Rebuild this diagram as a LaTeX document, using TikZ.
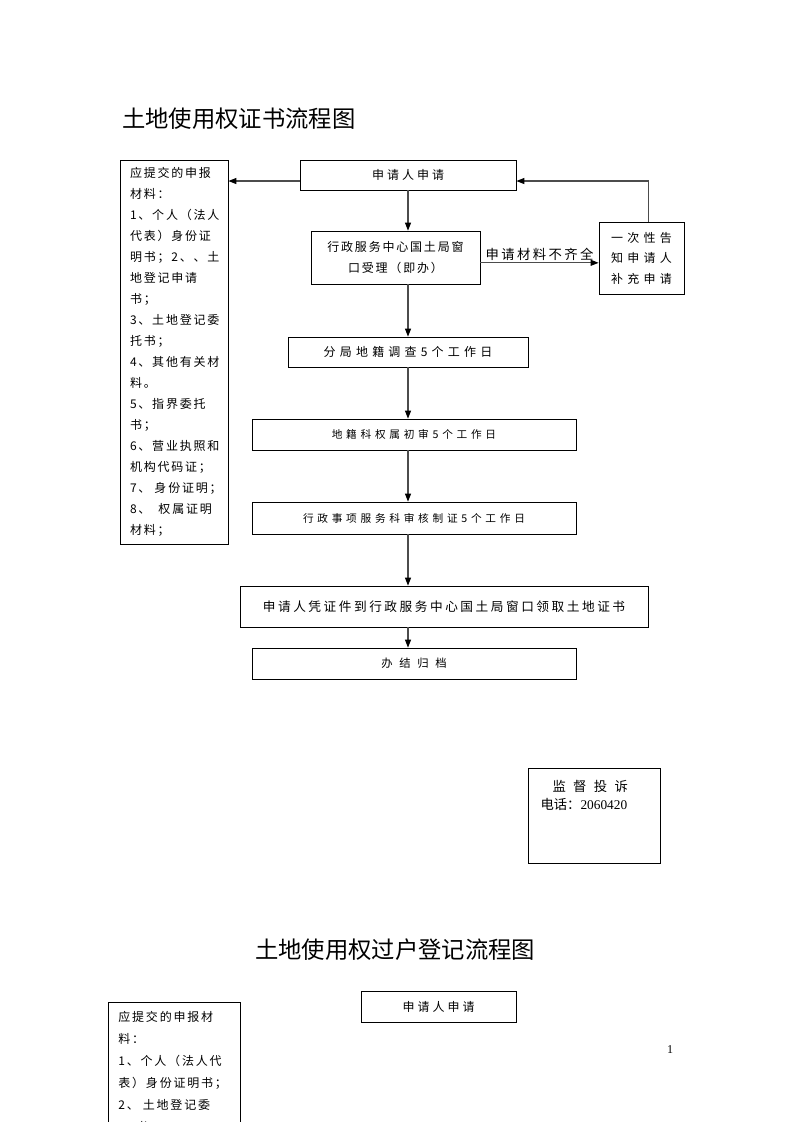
\documentclass[tikz,border=0pt]{standalone}
\usepackage{fontspec}
\setmainfont{Liberation Serif}
\newfontfamily\cjk{Noto Sans CJK SC}
\newfontfamily\cjkS[LetterSpace=15]{Noto Sans CJK SC}
\newfontfamily\cjkL[LetterSpace=18]{Noto Sans CJK SC}
\newfontfamily\cjkT[LetterSpace=20]{Noto Sans CJK SC}
\newfontfamily\cjkM[LetterSpace=25]{Noto Sans CJK SC}
\newfontfamily\cjkW[LetterSpace=35]{Noto Sans CJK SC}
\usetikzlibrary{arrows.meta}
\usetikzlibrary{positioning}

\begin{document}
\begin{tikzpicture}[x=0.75pt,y=-0.75pt,
  box/.style={draw,line width=0.6pt,inner sep=0pt,align=center},
  arr/.style={draw=black!70,line width=0.8pt,-{Triangle[length=6pt,width=4.5pt,color=black]}},
  title/.style={font=\cjk\fontsize{17.5}{20}\selectfont,anchor=west,inner sep=0pt}]
\useasboundingbox (0,0) rectangle (793,1122);

\node[title] (title1) at (122,119) {土地使用权证书流程图};

\node[box,minimum width=81pt,minimum height=288pt,text width=66pt,align=left,
  font=\cjkS\fontsize{9}{15.75}\selectfont] (docs) at (174,352)
  {应提交的申报\\材料：\\1、个人（法人\\代表）身份证\\明书；2、、土\\地登记申请\\书；\\3、土地登记委\\托书；\\4、其他有关材\\料。\\5、指界委托\\书；\\6、营业执照和\\机构代码证；\\7、~身份证明；\\8、~~权属证明\\材料；};

\node[box,minimum width=162pt,minimum height=22.5pt,font=\cjkM\fontsize{9}{11}\selectfont] (apply) at (408,175) {申请人申请};
\node[box,minimum width=126.75pt,minimum height=39.75pt,font=\cjkS\fontsize{9}{15.75}\selectfont] (accept) at (395.5,257.5) {行政服务中心国土局窗\\口受理（即办）};
\node[box,minimum width=63.75pt,minimum height=54pt,font=\cjkW\fontsize{9}{15.4}\selectfont] (notify) at (641.5,258) {一次性告\\知申请人\\补充申请};
\node[box,minimum width=180pt,minimum height=22.5pt,font=\cjkW\fontsize{9}{11}\selectfont] (survey) at (408,352) {分局地籍调查5个工作日};
\node[box,minimum width=243pt,minimum height=23.25pt,font=\cjkW\fontsize{8}{10}\selectfont] (check) at (414,434.5) {地籍科权属初审5个工作日};
\node[box,minimum width=243pt,minimum height=24pt,font=\cjkW\fontsize{8}{10}\selectfont] (review) at (414,518) {行政事项服务科审核制证5个工作日};
\node[box,minimum width=306pt,minimum height=30.75pt,font=\cjkT\fontsize{9.5}{11}\selectfont] (collect) at (444,606.5) {申请人凭证件到行政服务中心国土局窗口领取土地证书};
\node[box,minimum width=243pt,minimum height=23.25pt,font=\cjkS\fontsize{8.5}{10}\selectfont] (archive) at (414,663.5) {办\hspace{5pt}结\hspace{5pt}归\hspace{5pt}档};

\draw[arr] ([yshift=-4.5pt]apply.west) -- ([yshift=-4.5pt]apply.west -| docs.east);
\draw[arr] (apply.south) -- (apply.south |- accept.north);
\draw[arr] (accept.south -| apply.south) -- (survey.north);
\draw[arr] ([yshift=-4pt]accept.east) -- ([yshift=-4pt]accept.east -| notify.west)
  node[midway,above=1pt,inner sep=0pt,font=\cjkL\fontsize{10}{12}\selectfont] (lack) {申请材料不齐全};
\draw[arr] ([xshift=5pt]notify.north) |- ([yshift=-4.5pt]apply.east);
\draw[arr] (survey.south) -- (survey.south |- check.north);
\draw[arr] (check.south -| survey.south) -- (survey.south |- review.north);
\draw[arr] (review.south -| survey.south) -- (survey.south |- collect.north);
\draw[arr] (collect.south -| survey.south) -- (survey.south |- archive.north);

% supervision box
\node[box,minimum width=99pt,minimum height=71.25pt] (complain) at (594,815.5) {};
\node[anchor=north west,align=left,inner sep=0pt,font=\fontsize{10}{13.5}\selectfont] (complainText)
  at ([xshift=9.5pt,yshift=-9pt]complain.north west)
  {\hspace{9pt}{\cjk 监\hspace{5.5pt}督\hspace{5.5pt}投\hspace{5.5pt}诉}\\{\cjk 电话：}2060420};

\node[title] (title2) at (255,950) {土地使用权过户登记流程图};

\node[box,minimum width=116.25pt,minimum height=23.25pt,font=\cjkM\fontsize{9}{11}\selectfont] (apply2) at (438.5,1006.5) {申请人申请};
\node[box,anchor=north west,text width=84pt,inner xsep=7.5pt,inner ysep=7pt,align=left,
  font=\cjkS\fontsize{9}{16.5}\selectfont] (docs2) at (108,1002)
  {应提交的申报材\\料：\\1、个人（法人代\\表）身份证明书；\\2、~土地登记委\\\hspace{1.5em}书};

\node[font=\fontsize{9}{11}\selectfont,inner sep=0pt] (pagenum) at (670,1050) {1};
\end{tikzpicture}
\end{document}
